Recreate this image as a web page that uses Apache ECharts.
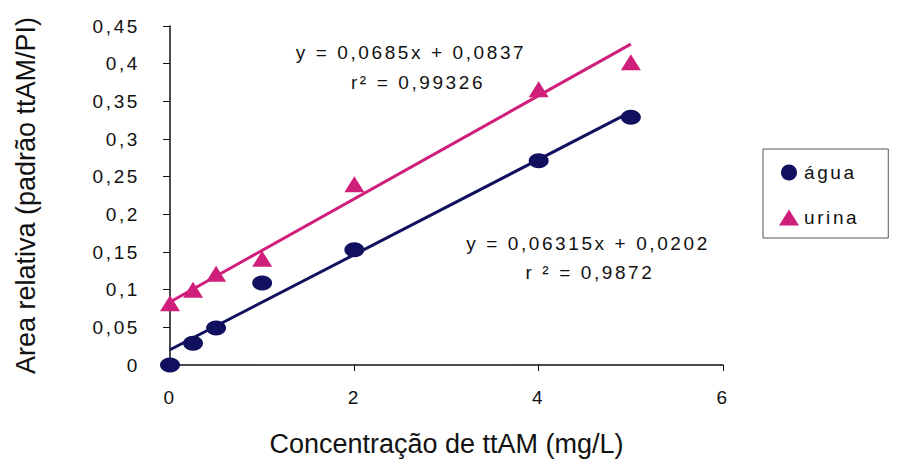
<!DOCTYPE html>
<html>
<head>
<meta charset="utf-8">
<script src="https://cdn.jsdelivr.net/npm/echarts@6/dist/echarts.min.js"></script>
<style>
  html, body { margin: 0; padding: 0; background: #fff; }
  #main { width: 900px; height: 462px; }
  /* o original tem textos pequenos espaçados */
  #main text { letter-spacing: 2.6px; }
  #main text[style*="27px"], #main text[font-size="27"], #main text[font-size="27px"] { letter-spacing: 0; }
</style>
</head>
<body>
<div id="main"></div>
<script>
// dados
const aguaPts = [[0, 0], [0.25, 0.029], [0.5, 0.049], [1, 0.109], [2, 0.153], [4, 0.271], [5, 0.329]];
const urinaPts = [[0, 0.082], [0.25, 0.1], [0.5, 0.121], [1, 0.141], [2, 0.24], [4, 0.366], [5, 0.402]];
// retas de regressão (extremos)
const aguaFit = [[0, 0.0202], [5, 0.336]];
const urinaFit = [[0, 0.0837], [5, 0.426]];
const eqUrina = ["y = 0,0685x + 0,0837", "r² = 0,99326"];
const eqAgua = ["y = 0,06315x + 0,0202", "r ² = 0,9872"];

const navy = "#10105e";
const pink = "#cf1f7b";
const font = "Liberation Sans, Arial, sans-serif";

let myChart = echarts.init(document.getElementById("main"), null, { renderer: "svg" });

const fmt = v => String(v).replace(".", ",");

function eqText(txt, x, y) {
  return {
    type: "text", x: x, y: y,
    style: { text: txt, fill: "#111", font: "19px " + font, align: "center", verticalAlign: "middle" }
  };
}

var option = {
  backgroundColor: "#fff",
  animation: false,
  grid: { left: 170, right: 177, top: 26, bottom: 97, outerBoundsMode: "none" },
  xAxis: {
    type: "value", min: 0, max: 6, interval: 2,
    name: "Concentração de ttAM (mg/L)",
    nameLocation: "middle", nameGap: 65,
    nameTextStyle: { fontSize: 27, color: "#111", fontFamily: font },
    axisLine: { lineStyle: { color: "#111", width: 1.5 } },
    axisTick: { show: true, length: 6, lineStyle: { color: "#111" } },
    axisLabel: { margin: 23, fontSize: 19, color: "#111", fontFamily: font, formatter: fmt },
    splitLine: { show: false }
  },
  yAxis: {
    type: "value", min: 0, max: 0.45, interval: 0.05,
    name: "Area relativa (padrão ttAM/PI)",
    nameLocation: "middle", nameGap: 131,
    nameTextStyle: { fontSize: 27, color: "#111", fontFamily: font },
    axisLine: { show: true, lineStyle: { color: "#111", width: 1.5 } },
    axisTick: { show: true, length: 7, lineStyle: { color: "#111" } },
    axisLabel: { margin: 30, fontSize: 19, color: "#111", fontFamily: font,
      formatter: v => fmt(Math.round(v * 100) / 100) },
    splitLine: { show: false }
  },
  legend: {
    data: ["água", "urina"],
    orient: "vertical",
    left: 763, top: 149,
    padding: [14, 42, 11, 16],
    itemGap: 26,
    itemWidth: 20, itemHeight: 16,
    borderColor: "#555", borderWidth: 1, borderRadius: 0,
    textStyle: { fontSize: 19, color: "#111", fontFamily: font }
  },
  graphic: [
    eqText(eqUrina[0], 411, 52),
    eqText(eqUrina[1], 418, 82),
    eqText(eqAgua[0], 588, 243),
    eqText(eqAgua[1], 590, 272)
  ],
  series: [
    {
      name: "fit-urina", type: "line", data: urinaFit, symbol: "none",
      lineStyle: { color: pink, width: 3 }, z: 2, silent: true
    },
    {
      name: "fit-agua", type: "line", data: aguaFit, symbol: "none",
      lineStyle: { color: navy, width: 3 }, z: 2, silent: true
    },
    {
      name: "água", type: "scatter", data: aguaPts,
      symbol: "circle", symbolSize: [20, 15],
      itemStyle: { color: navy, opacity: 1 }, z: 3
    },
    {
      name: "urina", type: "scatter", data: urinaPts,
      symbol: "triangle", symbolSize: [20, 16],
      itemStyle: { color: pink, opacity: 1 }, z: 3
    }
  ]
};

myChart.setOption(option);
</script>
</body>
</html>
